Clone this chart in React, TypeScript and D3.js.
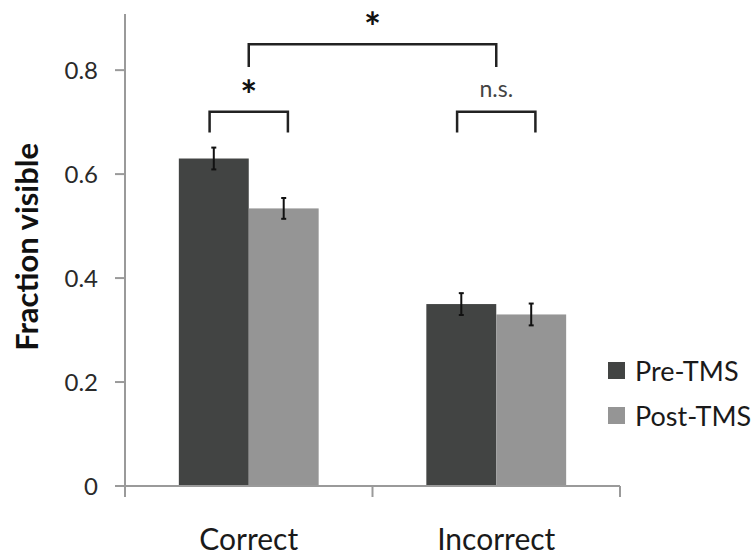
import * as d3 from "d3";

const categories = ["Correct", "Incorrect"];
const seriesNames = ["Pre-TMS", "Post-TMS"];
const preValues = [0.63, 0.35];
const postValues = [0.534, 0.33];
const preErrors = [0.021, 0.021];
const postErrors = [0.02, 0.021];
const yTicks = [0, 0.2, 0.4, 0.6, 0.8];
const colors = ["#424443", "#959595"];

// significance brackets: category index, level in data units
const brackets = [
  { cat: 0, label: "*", top: 0.72, bottom: 0.68, mode: "within" },
  { cat: 1, label: "n.s.", top: 0.72, bottom: 0.68, mode: "within" },
  { cat: 0, label: "*", top: 0.85, bottom: 0.806, mode: "between" },
];

const W = 756;
const H = 557;
const font = "Lato, 'Open Sans', sans-serif";

export default function App() {
  const x0 = d3.scaleBand<string>().domain(categories).range([125, 620]).padding(0);
  const x1 = d3
    .scaleBand<string>()
    .domain(seriesNames)
    .range([0, x0.bandwidth()])
    .paddingInner(0)
    .paddingOuter(0.77);
  const y = d3.scaleLinear().domain([0, 0.908]).range([486, 14]);

  const series = [
    { name: seriesNames[0], values: preValues, errors: preErrors },
    { name: seriesNames[1], values: postValues, errors: postErrors },
  ];
  const center = (c: string) => x0(c)! + x0.bandwidth() / 2;
  const halfW = x1.bandwidth() * 0.56;

  return (
    <svg width={W} height={H} style={{ display: "block", position: "absolute", left: 0, top: 0 }}>
      <rect width={W} height={H} fill="#fff" />

      {/* bars */}
      {series.map((s, si) =>
        categories.map((c, ci) => (
          <rect
            key={s.name + c}
            x={x0(c)! + x1(s.name)!}
            y={y(s.values[ci])}
            width={x1.bandwidth()}
            height={y(0) - y(s.values[ci])}
            fill={colors[si]}
          />
        ))
      )}

      {/* error bars */}
      {series.map((s) =>
        categories.map((c, ci) => {
          const cx = x0(c)! + x1(s.name)! + x1.bandwidth() / 2;
          const lo = y(s.values[ci] - s.errors[ci]);
          const hi = y(s.values[ci] + s.errors[ci]);
          return (
            <g key={"e" + s.name + c} stroke="#111" strokeWidth={2}>
              <line x1={cx} x2={cx} y1={lo} y2={hi} />
              <line x1={cx - 2.5} x2={cx + 2.5} y1={lo} y2={lo} />
              <line x1={cx - 2.5} x2={cx + 2.5} y1={hi} y2={hi} />
            </g>
          );
        })
      )}

      {/* y axis */}
      <line x1={125} x2={125} y1={y(0)} y2={y.range()[1]} stroke="#9a9a9a" strokeWidth={2} />
      {yTicks.map((t) => (
        <g key={t}>
          <line x1={115} x2={125} y1={y(t)} y2={y(t)} stroke="#9a9a9a" strokeWidth={2} />
          <text
            x={98}
            y={y(t)}
            dy="0.36em"
            textAnchor="end"
            fontFamily={font}
            fontSize={24}
            fill="#2a2a2a"
          >
            {t === 0 ? "0" : t.toFixed(1)}
          </text>
        </g>
      ))}

      {/* x axis */}
      <line x1={115} x2={x0.range()[1]} y1={y(0)} y2={y(0)} stroke="#9a9a9a" strokeWidth={2} />
      {[...categories.map((c) => x0(c)!), x0.range()[1]].map((px, i) => (
        <line key={i} x1={px} x2={px} y1={y(0)} y2={y(0) + 11} stroke="#9a9a9a" strokeWidth={2} />
      ))}
      {categories.map((c) => (
        <text
          key={c}
          x={center(c)}
          y={550}
          textAnchor="middle"
          fontFamily={font}
          fontSize={30}
          fill="#1a1a1a"
        >
          {c}
        </text>
      ))}

      {/* y label */}
      <text
        transform={`translate(38,${y(0.46)}) rotate(-90)`}
        textAnchor="middle"
        fontFamily={font}
        fontWeight={700}
        fontSize={31}
        fill="#111"
      >
        Fraction visible
      </text>

      {/* significance brackets */}
      {brackets.map((b, i) => {
        const c = categories[b.cat];
        const xl = b.mode === "within" ? center(c) - halfW : center(c);
        const xr = b.mode === "within" ? center(c) + halfW : center(categories[b.cat + 1]);
        const yt = y(b.top);
        const yb = y(b.bottom);
        const isStar = b.label === "*";
        return (
          <g key={i}>
            <path
              d={`M${xl},${yb}V${yt}H${xr}V${yb}`}
              fill="none"
              stroke="#222"
              strokeWidth={2.5}
            />
            <text
              x={(xl + xr) / 2}
              y={isStar ? yt - 2 : yt - 15}
              textAnchor="middle"
              fontFamily={font}
              fontWeight={isStar ? 700 : 400}
              fontSize={isStar ? 40 : 23}
              fill={isStar ? "#111" : "#444"}
            >
              {b.label}
            </text>
          </g>
        );
      })}

      {/* legend */}
      {seriesNames.map((n, i) => (
        <g key={n} transform={`translate(608,${362 + i * 45})`}>
          <rect width={17} height={17} fill={colors[i]} />
          <text x={27} y={9} dy="0.36em" fontFamily={font} fontSize={27} fill="#1a1a1a">
            {n}
          </text>
        </g>
      ))}
    </svg>
  );
}
